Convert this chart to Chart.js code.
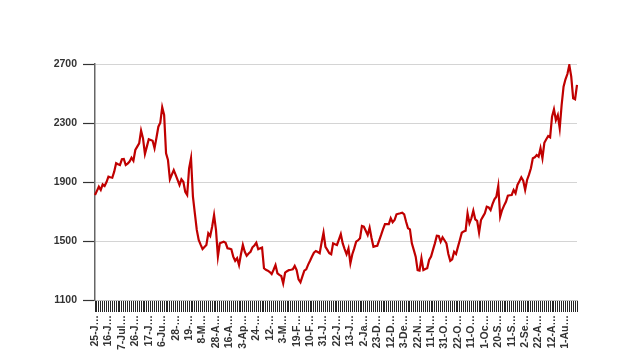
<!DOCTYPE html>
<html>
<head>
<meta charset="utf-8">
<script src="https://cdn.jsdelivr.net/npm/chart.js@4"></script>
<style>
html,body{margin:0;padding:0;background:#fff;}
canvas{display:block;}
</style>
</head>
<body>
<canvas id="c" width="620" height="364"></canvas>
<script>
// Series values, most recent first (left) to oldest (right)
const seriesValues = [
1812,1840,1868,1846,1884,1873,1900,1936,1932,1929,
1970,2027,2020,2015,2054,2056,2015,2025,2038,2065,
2044,2117,2140,2162,2248,2196,2090,2140,2190,2185,
2180,2129,2200,2275,2302,2407,2354,2095,2049,1918,
1950,1981,1948,1914,1880,1918,1902,1834,1812,1993,
2061,1800,1688,1575,1507,1475,1446,1460,1473,1552,
1534,1597,1676,1575,1394,1484,1490,1495,1488,1451,
1448,1444,1394,1366,1383,1337,1410,1473,1427,1400,
1415,1427,1457,1470,1488,1444,1450,1455,1315,1305,
1299,1290,1276,1305,1337,1281,1270,1263,1213,1285,
1295,1303,1305,1308,1331,1303,1240,1220,1260,1299,
1308,1340,1366,1395,1421,1432,1425,1417,1490,1556,
1461,1440,1417,1410,1484,1478,1473,1510,1547,1484,
1445,1410,1450,1349,1410,1450,1495,1505,1518,1602,
1597,1570,1541,1590,1520,1461,1465,1468,1505,1541,
1580,1615,1615,1615,1654,1627,1642,1681,1685,1688,
1692,1681,1630,1586,1579,1484,1440,1394,1303,1299,
1383,1303,1310,1315,1371,1394,1440,1484,1536,1534,
1495,1525,1505,1484,1412,1366,1376,1427,1412,1460,
1507,1556,1565,1570,1688,1620,1654,1705,1647,1636,
1556,1642,1665,1688,1733,1728,1710,1750,1783,1800,
1873,1665,1710,1740,1766,1807,1810,1812,1846,1823,
1880,1905,1932,1909,1846,1914,1950,1993,2061,2067,
2083,2072,2129,2061,2166,2190,2212,2203,2343,2393,
2320,2354,2264,2422,2546,2596,2632,2693,2614,2468,
2461,2558
];
// Tick labels shown on every 7th category (as truncated in the original)
const tickLabels = [
"25-J…","16-J…","7-Jul…","26-J…","17-J…","6-Ju…","28-…","19-…","8-M…","28-A…",
"16-A…","3-Ap…","24-…","12-…","3-M…","19-F…","10-F…","31-J…","22-J…","13-J…",
"2-Ja…","23-D…","12-D…","3-De…","22-N…","11-N…","31-O…","22-O…","11-O…","1-Oc…",
"20-S…","11-S…","2-Se…","22-A…","12-A…","1-Au…"
];
const labelEvery = 7;
const categories = seriesValues.map((v, i) => i);
const yTicks = [1100, 1500, 1900, 2300, 2700];

const font = {family: "'Liberation Sans', Arial, sans-serif", size: 10.5, weight: 'bold'};

new Chart(document.getElementById('c'), {
  type: 'line',
  data: {
    labels: categories,
    datasets: [{
      data: seriesValues,
      borderColor: '#c00000',
      borderWidth: 2.2,
      pointRadius: 0,
      tension: 0,
      fill: false
    }]
  },
  options: {
    responsive: false,
    animation: false,
    events: [],
    layout: {padding: {left: 0, top: 64, right: 43, bottom: 0}},
    plugins: {legend: {display: false}, tooltip: {enabled: false}},
    scales: {
      x: {
        type: 'category',
        offset: false,
        grid: {
          display: true,
          drawOnChartArea: false,
          drawTicks: true,
          tickLength: 12,
          tickColor: '#262626',
          tickWidth: 1,
          offset: false
        },
        border: {display: true, color: '#bfbfbf', width: 1},
        ticks: {
          autoSkip: false,
          minRotation: 90,
          maxRotation: 90,
          padding: 3,
          color: '#333333',
          font: font,
          callback: function(val, idx) {
            return idx % labelEvery === 0 ? tickLabels[idx / labelEvery] : '';
          }
        },
        afterFit: function(scale) { scale.height = 64; }
      },
      y: {
        min: yTicks[0],
        max: yTicks[yTicks.length - 1],
        afterBuildTicks: function(scale) { scale.ticks = yTicks.map(v => ({value: v})); },
        grid: {
          color: '#d4d4d4',
          lineWidth: 1,
          tickLength: 12,
          tickColor: '#333333',
          tickWidth: 1.2
        },
        border: {display: true, color: '#666666', width: 1.5},
        ticks: {
          padding: 6,
          color: '#333333',
          font: font,
          callback: function(v) { return String(v); }
        },
        afterFit: function(scale) { scale.width = 95; }
      }
    }
  }
});
</script>
</body>
</html>
